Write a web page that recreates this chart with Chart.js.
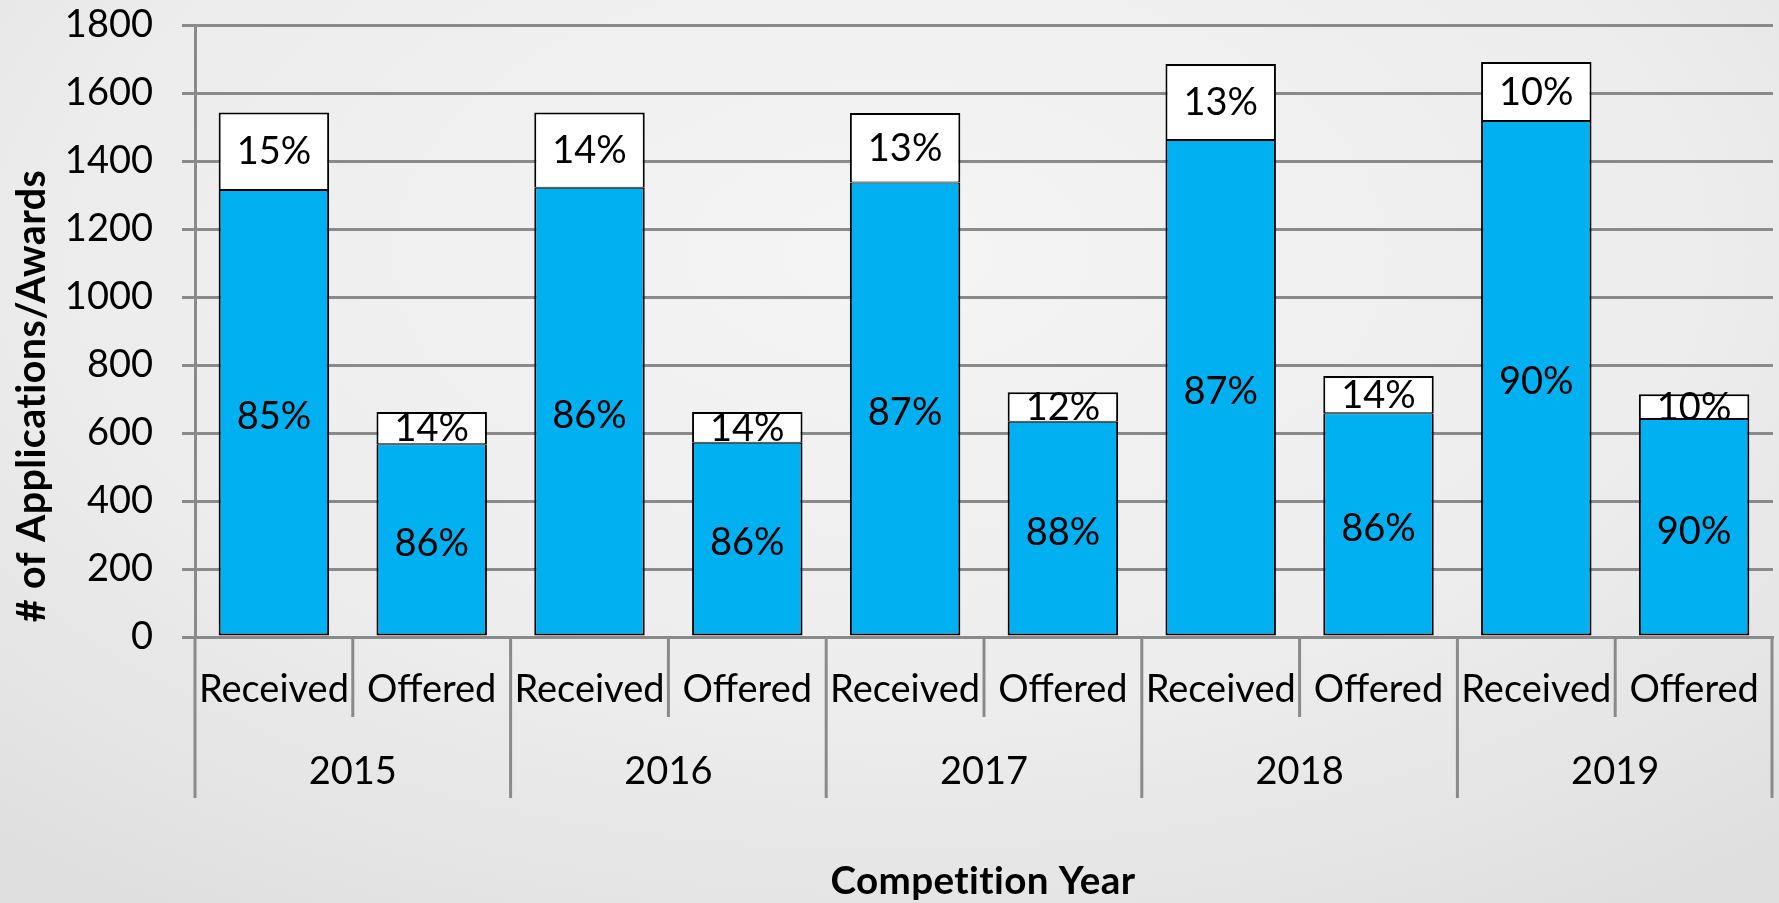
<!DOCTYPE html>
<html>
<head>
<meta charset="utf-8">
<script src="https://cdn.jsdelivr.net/npm/chart.js@4.4.1/dist/chart.umd.min.js"></script>
<style>
  html, body { margin: 0; padding: 0; }
  body {
    width: 1779px; height: 903px; overflow: hidden;
    background: radial-gradient(ellipse 80% 90% at 50% 28%, #f4f4f4 0%, #ededed 55%, #dedede 100%);
  }
  #wrap { position: relative; width: 1779px; height: 903px; }
</style>
</head>
<body>
<div id="wrap"><canvas id="c" width="1779" height="903"></canvas></div>
<script>
// ---- data ----
const years = ['2015', '2016', '2017', '2018', '2019'];
const subCategories = ['Received', 'Offered', 'Received', 'Offered', 'Received', 'Offered', 'Received', 'Offered', 'Received', 'Offered'];
// lower (blue) segment: funded applications / accepted awards
const blueValues = [1315, 567, 1321, 571, 1337, 633, 1462, 658, 1518, 641];
// upper (white) segment: remainder
const whiteValues = [228, 95, 222, 91, 204, 87, 223, 110, 173, 73];
const blueLabels = ['85%', '86%', '86%', '86%', '87%', '88%', '87%', '86%', '90%', '90%'];
const whiteLabels = ['15%', '14%', '14%', '14%', '13%', '12%', '13%', '14%', '10%', '10%'];
const yMin = 0, yMax = 1800, yStep = 200;
const yTitle = '# of Applications/Awards';
const xTitle = 'Competition Year';

const GRID = '#8a8a8a';
const FONT = 'Lato';
const LABEL_SIZE = 38;

// draw a bold title whose rendered length matches the original's span
function fittedTitle(ctx, text, targetLen) {
  ctx.font = 'bold 40px ' + FONT;
  const w = ctx.measureText(text).width;
  const size = Math.min(44, 40 * targetLen / w);
  ctx.font = 'bold ' + size.toFixed(1) + 'px ' + FONT;
}

const segmentLabels = {
  id: 'segmentLabels',
  afterDatasetsDraw(chart) {
    const ctx = chart.ctx;
    ctx.save();
    ctx.font = LABEL_SIZE + 'px ' + FONT;
    ctx.fillStyle = '#000';
    ctx.textAlign = 'center';
    ctx.textBaseline = 'middle';
    [blueLabels, whiteLabels].forEach((labels, di) => {
      chart.getDatasetMeta(di).data.forEach((bar, i) => {
        ctx.fillText(labels[i], bar.x, (bar.y + bar.base) / 2 + (di === 0 ? 4 : 1));
      });
    });
    ctx.restore();
  }
};

const groupAxis = {
  id: 'groupAxis',
  afterDraw(chart) {
    const ctx = chart.ctx;
    const xs = chart.scales.x;
    const bottom = chart.chartArea.bottom;
    const n = subCategories.length;
    ctx.save();
    ctx.strokeStyle = GRID;
    ctx.lineWidth = 3;
    for (let i = 0; i <= n; i++) {
      let px;
      if (i === 0) px = xs.left;
      else if (i === n) px = xs.right - 1;
      else px = (xs.getPixelForValue(i - 1) + xs.getPixelForValue(i)) / 2;
      const len = (i % 2 === 0) ? 161 : 80;
      ctx.beginPath();
      ctx.moveTo(px, bottom);
      ctx.lineTo(px, bottom + len);
      ctx.stroke();
    }
    ctx.font = LABEL_SIZE + 'px ' + FONT;
    ctx.fillStyle = '#000';
    ctx.textAlign = 'center';
    ctx.textBaseline = 'middle';
    years.forEach((y, k) => {
      const cx = (xs.getPixelForValue(2 * k) + xs.getPixelForValue(2 * k + 1)) / 2;
      ctx.fillText(y, cx, bottom + 135);
    });
    // axis titles (slight letter spacing keeps Lato from forming "ti" ligatures)
    ctx.letterSpacing = '0.4px';
    fittedTitle(ctx, xTitle, 305);
    ctx.fillText(xTitle, 983, 882);
    ctx.setTransform(1, 0, 0, 1, 0, 0);
    ctx.translate(32, 396);
    ctx.rotate(-Math.PI / 2);
    fittedTitle(ctx, yTitle, 452);
    ctx.fillText(yTitle, 0, 0);
    ctx.restore();
  }
};

new Chart(document.getElementById('c'), {
  type: 'bar',
  data: {
    labels: subCategories,
    datasets: [
      {
        label: 'Funded',
        data: blueValues,
        backgroundColor: '#00B0F0',
        borderColor: '#000',
        borderWidth: { left: 2, right: 2, bottom: 2, top: 1 },
        borderSkipped: false
      },
      {
        label: 'Remainder',
        data: whiteValues,
        backgroundColor: '#ffffff',
        borderColor: '#000',
        borderWidth: { left: 2, right: 2, bottom: 1, top: 2 },
        borderSkipped: false
      }
    ]
  },
  options: {
    responsive: false,
    animation: false,
    devicePixelRatio: 1,
    layout: { padding: { top: 25, right: 6, left: 0, bottom: 0 } },
    datasets: { bar: { categoryPercentage: 1.0, barPercentage: 0.7 } },
    plugins: { legend: { display: false }, tooltip: { enabled: false } },
    scales: {
      x: {
        stacked: true,
        grid: { display: false, drawTicks: false },
        border: { display: true, color: GRID, width: 3 },
        ticks: {
          color: '#000', font: { family: FONT, size: LABEL_SIZE },
          padding: 30, maxRotation: 0, minRotation: 0, autoSkip: false
        },
        title: { display: false },
        afterFit(scale) { scale.height = 266; scale.paddingLeft = 0; scale.paddingRight = 0; }
      },
      y: {
        stacked: true,
        min: yMin, max: yMax,
        ticks: {
          stepSize: yStep, color: '#000', font: { family: FONT, size: LABEL_SIZE }, padding: 29,
          callback: (v) => String(v)
        },
        grid: { color: GRID, lineWidth: 3, tickLength: 13, drawTicks: true },
        border: { display: true, color: GRID, width: 3 },
        title: { display: false },
        afterFit(scale) { scale.width = 195; scale.paddingTop = 0; scale.paddingBottom = 0; }
      }
    }
  },
  plugins: [segmentLabels, groupAxis]
});
</script>
</body>
</html>
